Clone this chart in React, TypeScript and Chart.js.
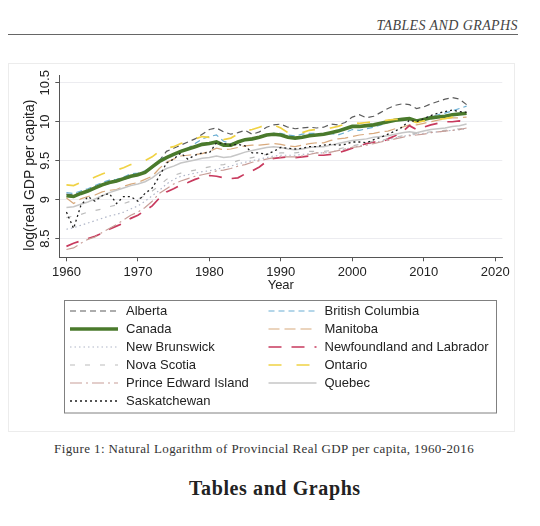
import React, { useEffect, useRef } from "react";
import { Chart, registerables } from "chart.js";

Chart.register(...registerables);

const years = [
  1960, 1961, 1962, 1963, 1964, 1965, 1966, 1967, 1968, 1969,
  1970, 1971, 1972, 1973, 1974, 1975, 1976, 1977, 1978, 1979,
  1980, 1981, 1982, 1983, 1984, 1985, 1986, 1987, 1988, 1989,
  1990, 1991, 1992, 1993, 1994, 1995, 1996, 1997, 1998, 1999,
  2000, 2001, 2002, 2003, 2004, 2005, 2006, 2007, 2008, 2009,
  2010, 2011, 2012, 2013, 2014, 2015, 2016,
];

const alberta = [
  9.07, 9.06, 9.09, 9.12, 9.15, 9.18, 9.21, 9.23, 9.26, 9.29,
  9.31, 9.35, 9.41, 9.50, 9.62, 9.66, 9.70, 9.74, 9.78, 9.84,
  9.90, 9.92, 9.87, 9.84, 9.86, 9.89, 9.84, 9.87, 9.93, 9.96,
  9.97, 9.93, 9.91, 9.92, 9.93, 9.92, 9.93, 9.97, 9.96, 9.99,
  10.06, 10.09, 10.05, 10.07, 10.12, 10.17, 10.21, 10.23, 10.22, 10.17,
  10.19, 10.23, 10.26, 10.29, 10.31, 10.29, 10.22,
];
const britishColumbia = [
  9.09, 9.08, 9.11, 9.14, 9.18, 9.22, 9.25, 9.26, 9.29, 9.33,
  9.34, 9.37, 9.43, 9.51, 9.56, 9.58, 9.63, 9.66, 9.72, 9.78,
  9.81, 9.83, 9.75, 9.72, 9.74, 9.76, 9.77, 9.80, 9.83, 9.85,
  9.85, 9.83, 9.82, 9.84, 9.85, 9.85, 9.84, 9.85, 9.83, 9.86,
  9.90, 9.89, 9.91, 9.93, 9.96, 9.99, 10.02, 10.04, 10.05, 10.02,
  10.04, 10.07, 10.09, 10.11, 10.14, 10.17, 10.20,
];
const canada = [
  9.05, 9.04, 9.08, 9.11, 9.15, 9.19, 9.22, 9.24, 9.27, 9.30,
  9.32, 9.35, 9.42, 9.49, 9.54, 9.58, 9.62, 9.65, 9.68, 9.71,
  9.72, 9.74, 9.70, 9.70, 9.74, 9.77, 9.78, 9.80, 9.83, 9.84,
  9.83, 9.80, 9.79, 9.80, 9.82, 9.83, 9.84, 9.86, 9.88, 9.91,
  9.94, 9.94, 9.95, 9.96, 9.98, 10.00, 10.02, 10.03, 10.04, 10.01,
  10.03, 10.05, 10.06, 10.07, 10.09, 10.10, 10.11,
];
const manitoba = [
  9.02, 8.95, 9.01, 9.04, 9.06, 9.10, 9.12, 9.13, 9.17, 9.20,
  9.22, 9.26, 9.30, 9.40, 9.48, 9.52, 9.56, 9.57, 9.58, 9.59,
  9.62, 9.66, 9.64, 9.65, 9.67, 9.69, 9.70, 9.70, 9.71, 9.72,
  9.71, 9.69, 9.68, 9.70, 9.72, 9.73, 9.73, 9.76, 9.78, 9.79,
  9.81, 9.83, 9.84, 9.85, 9.87, 9.88, 9.91, 9.93, 9.96, 9.96,
  9.98, 10.00, 10.02, 10.04, 10.05, 10.05, 10.06,
];
const newBrunswick = [
  8.62, 8.64, 8.67, 8.70, 8.73, 8.76, 8.79, 8.81, 8.84, 8.88,
  8.92, 8.98, 9.05, 9.12, 9.20, 9.26, 9.30, 9.32, 9.34, 9.36,
  9.37, 9.39, 9.41, 9.43, 9.46, 9.48, 9.50, 9.52, 9.54, 9.56,
  9.57, 9.57, 9.57, 9.58, 9.59, 9.60, 9.60, 9.61, 9.63, 9.65,
  9.67, 9.69, 9.71, 9.73, 9.75, 9.77, 9.79, 9.81, 9.83, 9.84,
  9.85, 9.86, 9.87, 9.88, 9.89, 9.90, 9.91,
];
const newfoundland = [
  8.40, 8.44, 8.47, 8.50, 8.53, 8.57, 8.62, 8.66, 8.70, 8.76,
  8.80, 8.86, 8.92, 9.02, 9.10, 9.14, 9.19, 9.22, 9.26, 9.29,
  9.31, 9.30, 9.28, 9.27, 9.28, 9.33, 9.37, 9.42, 9.49, 9.53,
  9.54, 9.55, 9.54, 9.55, 9.56, 9.57, 9.57, 9.58, 9.60, 9.63,
  9.66, 9.69, 9.72, 9.74, 9.73, 9.78, 9.82, 9.87, 9.95, 9.90,
  9.93, 9.96, 9.98, 10.00, 10.00, 10.01, 9.99,
];
const novaScotia = [
  8.77, 8.79, 8.81, 8.84, 8.86, 8.88, 8.91, 8.93, 8.95, 8.98,
  9.01, 9.05, 9.11, 9.18, 9.26, 9.31, 9.34, 9.36, 9.38, 9.40,
  9.42, 9.44, 9.45, 9.47, 9.50, 9.52, 9.54, 9.56, 9.58, 9.59,
  9.60, 9.60, 9.60, 9.61, 9.62, 9.62, 9.62, 9.63, 9.65, 9.67,
  9.69, 9.71, 9.73, 9.75, 9.76, 9.78, 9.80, 9.82, 9.84, 9.85,
  9.86, 9.87, 9.88, 9.89, 9.90, 9.91, 9.92,
];
const ontario = [
  9.19, 9.18, 9.22, 9.25, 9.29, 9.33, 9.36, 9.38, 9.41, 9.45,
  9.46, 9.50, 9.55, 9.62, 9.66, 9.68, 9.72, 9.75, 9.78, 9.81,
  9.80, 9.82, 9.77, 9.79, 9.84, 9.88, 9.90, 9.93, 9.96, 9.96,
  9.92, 9.86, 9.85, 9.86, 9.89, 9.90, 9.90, 9.92, 9.94, 9.97,
  9.99, 9.98, 9.99, 10.00, 10.01, 10.02, 10.03, 10.03, 10.02, 9.99,
  10.01, 10.02, 10.03, 10.04, 10.06, 10.07, 10.09,
];
const princeEdwardIsland = [
  8.36, 8.38, 8.44, 8.49, 8.52, 8.58, 8.63, 8.68, 8.74, 8.80,
  8.84, 8.90, 8.98, 9.08, 9.14, 9.20, 9.24, 9.27, 9.30, 9.32,
  9.34, 9.37, 9.38, 9.40, 9.43, 9.45, 9.48, 9.50, 9.52, 9.54,
  9.55, 9.55, 9.55, 9.56, 9.58, 9.60, 9.60, 9.61, 9.63, 9.65,
  9.67, 9.68, 9.70, 9.72, 9.74, 9.76, 9.78, 9.80, 9.82, 9.83,
  9.84, 9.86, 9.87, 9.88, 9.89, 9.90, 9.92,
];
const quebec = [
  8.90, 8.91, 8.94, 8.97, 9.01, 9.05, 9.09, 9.12, 9.15, 9.18,
  9.20, 9.23, 9.28, 9.35, 9.40, 9.43, 9.47, 9.49, 9.51, 9.53,
  9.54, 9.56, 9.54, 9.55, 9.58, 9.61, 9.63, 9.65, 9.67, 9.68,
  9.67, 9.65, 9.64, 9.65, 9.67, 9.68, 9.68, 9.70, 9.72, 9.74,
  9.76, 9.77, 9.78, 9.80, 9.81, 9.82, 9.84, 9.86, 9.87, 9.86,
  9.88, 9.90, 9.91, 9.92, 9.94, 9.95, 9.97,
];
const saskatchewan = [
  8.84, 8.63, 8.92, 9.04, 8.98, 9.05, 9.08, 8.95, 9.04, 9.04,
  8.98, 9.08, 9.15, 9.30, 9.47, 9.52, 9.60, 9.52, 9.57, 9.60,
  9.60, 9.73, 9.72, 9.70, 9.71, 9.69, 9.60, 9.60, 9.58, 9.62,
  9.67, 9.66, 9.65, 9.66, 9.68, 9.68, 9.70, 9.71, 9.70, 9.71,
  9.74, 9.74, 9.73, 9.77, 9.80, 9.84, 9.88, 9.93, 10.02, 10.00,
  10.04, 10.08, 10.11, 10.13, 10.15, 10.13, 10.12,
];

const seriesNames = [
  "Alberta", "British Columbia", "Canada", "Manitoba", "New Brunswick",
  "Newfoundland and Labrador", "Nova Scotia", "Ontario", "Prince Edward Island",
  "Quebec", "Saskatchewan",
];
const seriesValues = [
  alberta, britishColumbia, canada, manitoba, newBrunswick, newfoundland,
  novaScotia, ontario, princeEdwardIsland, quebec, saskatchewan,
];
const seriesColors = [
  "#5c5c5c", "#6aaed3", "#4a7a2c", "#d8a97c", "#b0b6c8", "#c83a5e",
  "#bcbcbc", "#f0d244", "#c89e98", "#c6c6c6", "#1e1e1e",
];
const seriesWidths = [1.2, 1.2, 3.6, 1.2, 1.2, 1.7, 1.2, 1.7, 1.2, 1.5, 1.3];
const seriesDashes: number[][] = [
  [6, 4], [6, 4], [], [11, 5], [1.5, 3], [13, 10], [5, 10], [13, 15],
  [12, 4, 2, 4], [], [2, 3],
];

const xTicks = [1960, 1970, 1980, 1990, 2000, 2010, 2020];
const yTicks = [8.5, 9, 9.5, 10, 10.5];
const yTickLabels = ["8.5", "9", "9.5", "10", "10.5"];
const xTitle = "Year";
const yTitle = "log(real GDP per capita)";

const SANS = '"Liberation Sans", Arial, Helvetica, sans-serif';
const SERIF = '"Liberation Serif", "Times New Roman", serif';

const overlayPlugin = {
  id: "overlay",
  afterDraw(chart: any) {
    const ctx = chart.ctx as CanvasRenderingContext2D;
    const ys = chart.scales.y;
    const area = chart.chartArea;
    ctx.save();
    ctx.fillStyle = "#222";
    ctx.font = `13px ${SANS}`;
    ctx.textAlign = "center";
    ctx.textBaseline = "middle";
    yTicks.forEach((v, i) => {
      const py = ys.getPixelForValue(v);
      ctx.save();
      ctx.translate(area.left - 14, py);
      ctx.rotate(-Math.PI / 2);
      ctx.fillText(yTickLabels[i], 0, 0);
      ctx.restore();
    });
    ctx.save();
    ctx.font = `14px ${SANS}`;
    ctx.translate(area.left - 29, (area.top + area.bottom) / 2 + 9);
    ctx.rotate(-Math.PI / 2);
    ctx.fillText(yTitle, 0, 0);
    ctx.restore();

    // legend
    const boxL = 56.5, boxT = 237.5, boxW = 432, boxH = 112.5;
    ctx.setLineDash([]);
    ctx.lineWidth = 1;
    ctx.strokeStyle = "#808080";
    ctx.strokeRect(boxL, boxT, boxW, boxH);
    ctx.textAlign = "left";
    ctx.font = `13px ${SANS}`;
    chart.data.datasets.forEach((ds: any, i: number) => {
      const col = i % 2;
      const row = Math.floor(i / 2);
      const sx = col === 0 ? 62 : 260.5;
      const cy = 248 + row * 18;
      ctx.beginPath();
      ctx.setLineDash(ds.borderDash || []);
      ctx.lineWidth = ds.borderWidth;
      ctx.strokeStyle = ds.borderColor;
      ctx.moveTo(sx, cy);
      ctx.lineTo(sx + 48, cy);
      ctx.stroke();
      ctx.setLineDash([]);
      ctx.fillStyle = "#222";
      ctx.fillText(ds.label, sx + 56, cy);
    });
    ctx.restore();
  },
};

function GdpChart() {
  const ref = useRef<HTMLCanvasElement | null>(null);
  useEffect(() => {
    if (!ref.current) return;
    const n = seriesNames.length;
    const chart = new Chart(ref.current, {
      type: "line",
      data: {
        datasets: seriesNames.map((name, i) => ({
          label: name,
          data: years.map((yr, j) => ({ x: yr, y: seriesValues[i][j] })),
          borderColor: seriesColors[i],
          backgroundColor: seriesColors[i],
          borderWidth: seriesWidths[i],
          borderDash: seriesDashes[i],
          pointRadius: 0,
          fill: false,
          tension: 0,
          order: n - i,
        })),
      },
      options: {
        animation: false,
        responsive: false,
        devicePixelRatio: 1,
        layout: { padding: { left: 0, right: 12.7, top: 12, bottom: 134.7 } },
        plugins: {
          legend: { display: false },
          tooltip: { enabled: false },
        },
        scales: {
          x: {
            type: "linear",
            min: 1959,
            max: 2021,
            afterBuildTicks: (s: any) => {
              s.ticks = xTicks.map((v) => ({ value: v }));
            },
            afterFit: (s: any) => {
              s.height = 40;
            },
            grid: {
              drawOnChartArea: false,
              drawTicks: true,
              tickLength: 4,
              tickColor: "#555",
            },
            border: { display: true, color: "#555", width: 1 },
            ticks: {
              autoSkip: false,
              maxRotation: 0,
              minRotation: 0,
              padding: 3,
              color: "#222",
              font: { size: 13, family: SANS },
              callback: (v: any) => String(v),
            },
            title: {
              display: true,
              text: xTitle,
              color: "#222",
              font: { size: 13, family: SANS },
              padding: { top: 0, bottom: 4 },
            },
          },
          y: {
            type: "linear",
            min: 8.26,
            max: 10.6,
            afterBuildTicks: (s: any) => {
              s.ticks = yTicks.map((v) => ({ value: v }));
            },
            afterFit: (s: any) => {
              s.width = 51.3;
            },
            grid: {
              color: "#ececf0",
              drawTicks: true,
              tickLength: 4,
              tickColor: "#555",
            },
            border: { display: true, color: "#555", width: 1 },
            ticks: { display: false },
          },
        },
      },
      plugins: [overlayPlugin],
    });
    return () => chart.destroy();
  }, []);
  return (
    <canvas
      ref={ref}
      width={507}
      height={369}
      style={{ position: "absolute", left: 8, top: 63, width: 507, height: 369 }}
    />
  );
}

export default function App() {
  return (
    <div style={{ position: "absolute", left: 0, top: 0, width: 540, height: 526, background: "#fff" }}>
      <div
        style={{
          position: "absolute",
          right: 22,
          top: 18,
          font: `italic 14px ${SERIF}`,
          color: "#444",
          whiteSpace: "nowrap",
          letterSpacing: 0.4,
        }}
      >
        TABLES AND GRAPHS
      </div>
      <div style={{ position: "absolute", left: 8, top: 34, width: 510, height: 1, background: "#666" }} />
      <div
        style={{
          position: "absolute",
          left: 8,
          top: 63,
          width: 507,
          height: 369,
          border: "1px solid #ececec",
          boxSizing: "border-box",
        }}
      />
      <GdpChart />
      <div
        style={{
          position: "absolute",
          left: 54,
          top: 441,
          font: `13px ${SERIF}`,
          color: "#333",
          whiteSpace: "nowrap",
          letterSpacing: 0.4,
        }}
      >
        Figure 1: Natural Logarithm of Provincial Real GDP per capita, 1960-2016
      </div>
      <div
        style={{
          position: "absolute",
          left: 189,
          top: 477,
          font: `bold 20px ${SERIF}`,
          color: "#222",
          whiteSpace: "nowrap",
          letterSpacing: 0.6,
        }}
      >
        Tables and Graphs
      </div>
    </div>
  );
}
